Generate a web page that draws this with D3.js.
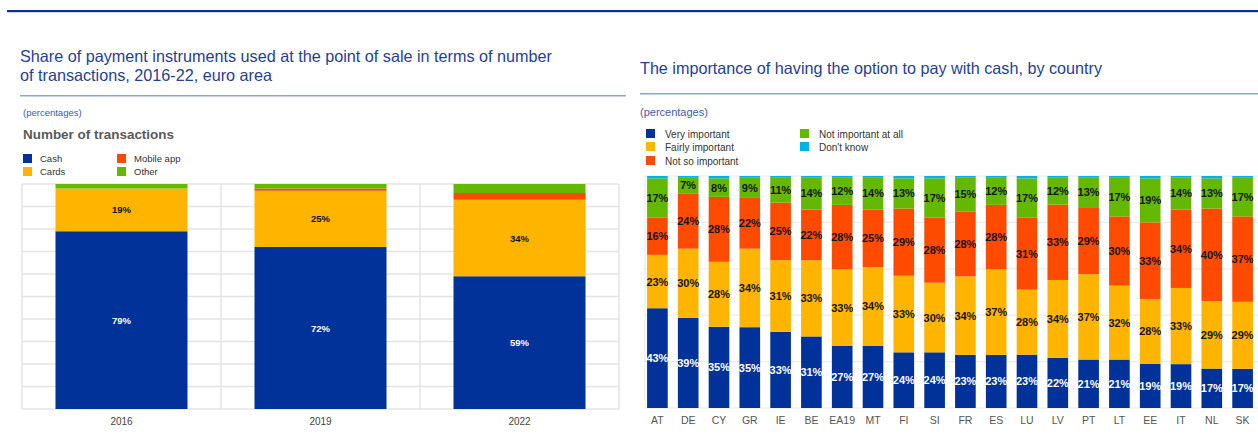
<!DOCTYPE html>
<html><head><meta charset="utf-8">
<script src="https://cdn.jsdelivr.net/npm/d3@7"></script>
<style>
html,body{margin:0;padding:0;background:#fff;}
svg{display:block;font-family:Arial,"Liberation Sans",sans-serif;}
</style></head>
<body>
<svg id="c" width="1258" height="448"></svg>
<script>
// ---- Left chart data ----
const years = ["2016", "2019", "2022"];
const cash = [79, 72, 59];
const cards = [19, 25, 34];
const mobileApp = [0, 1, 3];
const other = [2, 2, 4];
const leftKeys = ["Cash", "Cards", "Mobile app", "Other"];
const leftTicks = [0,10,20,30,40,50,60,70,80,90,100];

// ---- Right chart data ----
const countries = ["AT","DE","CY","GR","IE","BE","EA19","MT","FI","SI","FR","ES","LU","LV","PT","LT","EE","IT","NL","SK"];
const veryImportant   = [43,39,35,35,33,31,27,27,24,24,23,23,23,22,21,21,19,19,17,17];
const fairlyImportant = [23,30,28,34,31,33,33,34,33,30,34,37,28,34,37,32,28,33,29,29];
const notSoImportant  = [16,24,28,22,25,22,28,25,29,28,28,28,31,33,29,30,33,34,40,37];
const notAtAll        = [17,7,8,9,11,14,12,14,13,17,15,12,17,12,13,17,19,14,13,17];
const dontKnow        = [1,0.5,1,0.5,0.5,0.5,0.5,0.5,1,1,0.5,0.5,1,0.5,0.5,0.5,1,0.5,1,0.5];
const rightKeys = ["Very important","Fairly important","Not so important","Not important at all","Don't know"];
const rightTicks = [0,0.2,0.4,0.6,0.8,1];

const colors = {blue:"#003299", yellow:"#ffb400", red:"#ff4b00", green:"#65b800", cyan:"#00b1ea"};
const leftColor = d3.scaleOrdinal(leftKeys, [colors.blue, colors.yellow, colors.red, colors.green]);
const rightColor = d3.scaleOrdinal(rightKeys, [colors.blue, colors.yellow, colors.red, colors.green, colors.cyan]);

const svg = d3.select("#c");
const FONT = "Arial, 'Liberation Sans', sans-serif";
const titleBlue = "#1f3f99";

// top rule
svg.append("rect").attr("x",7).attr("y",10).attr("width",1251).attr("height",2.2).attr("fill","#0b2f95");

// ---------- LEFT ----------
const lt = svg.append("g");
lt.append("text").attr("x",20).attr("y",62).attr("font-size",16.5).attr("fill",titleBlue)
  .attr("textLength",532).attr("lengthAdjust","spacingAndGlyphs")
  .text("Share of payment instruments used at the point of sale in terms of number");
lt.append("text").attr("x",20).attr("y",81).attr("font-size",16.5).attr("fill",titleBlue)
  .attr("textLength",252).attr("lengthAdjust","spacingAndGlyphs")
  .text("of transactions, 2016-22, euro area");
lt.append("rect").attr("x",20).attr("y",95).attr("width",606).attr("height",1.5).attr("fill","#8ea3d6");
lt.append("text").attr("x",23).attr("y",116).attr("font-size",9.5).attr("fill","#3b5bb0").text("(percentages)");
lt.append("text").attr("x",23).attr("y",139).attr("font-size",13).attr("font-weight","bold").attr("fill","#595959")
  .attr("textLength",151).attr("lengthAdjust","spacingAndGlyphs").text("Number of transactions");

const leftLegendPos = [[23,154],[23,167],[117,154],[117,167]];
leftKeys.forEach((k,i)=>{
  const [x,y] = leftLegendPos[i];
  lt.append("rect").attr("x",x).attr("y",y).attr("width",9).attr("height",9).attr("fill",leftColor(k));
  lt.append("text").attr("x",x+17).attr("y",y+8).attr("font-size",9.5).attr("fill","#333").text(k);
});

const lx = d3.scaleBand().domain(years).range([22,619]).paddingInner(0).paddingOuter(0);
const ly = d3.scaleLinear().domain([0,100]).range([409,184]);
const grid = lt.append("g").attr("stroke","#e4e4e4").attr("stroke-width",1.5);
leftTicks.forEach(t=>grid.append("line").attr("x1",22).attr("x2",619).attr("y1",ly(t)).attr("y2",ly(t)));
[...years.map(y=>lx(y)), 619].forEach(x=>grid.append("line").attr("x1",x).attr("x2",x).attr("y1",184).attr("y2",409));

const leftRows = years.map((y,i)=>({year:y, "Cash":cash[i], "Cards":cards[i], "Mobile app":mobileApp[i], "Other":other[i]}));
const leftStack = d3.stack().keys(leftKeys)(leftRows);
const barW = 132;
lt.append("g").selectAll("g").data(leftStack).join("g").attr("fill",d=>leftColor(d.key))
  .selectAll("rect").data(d=>d).join("rect")
  .attr("x",d=>lx(d.data.year)+lx.bandwidth()/2-barW/2).attr("width",barW)
  .attr("y",d=>ly(d[1])).attr("height",d=>ly(d[0])-ly(d[1]));
leftStack.slice(0,2).forEach((s,si)=>{
  lt.append("g").selectAll("text").data(s).join("text")
    .attr("x",d=>lx(d.data.year)+lx.bandwidth()/2).attr("y",d=>ly((d[0]+d[1])/2)+3.5)
    .attr("text-anchor","middle").attr("font-size",9.5).attr("font-weight","bold")
    .attr("fill", si===0?"#fff":"#111").text(d=>d.data[s.key]+"%");
});
const lxAxis = lt.append("g").attr("transform","translate(0,409)").call(d3.axisBottom(lx).tickSize(0).tickPadding(9));
lxAxis.select(".domain").remove();
lxAxis.selectAll("text").attr("font-size",10).attr("fill","#444").attr("font-family",FONT);

// ---------- RIGHT ----------
const rt = svg.append("g");
rt.append("text").attr("x",640).attr("y",74).attr("font-size",16.5).attr("fill",titleBlue)
  .attr("textLength",462).attr("lengthAdjust","spacingAndGlyphs")
  .text("The importance of having the option to pay with cash, by country");
rt.append("rect").attr("x",640).attr("y",93).attr("width",618).attr("height",1.5).attr("fill","#8ea3d6");
rt.append("text").attr("x",640).attr("y",116).attr("font-size",11).attr("fill","#3b5bb0").text("(percentages)");
const rightLegendPos = [[646,129],[646,142],[646,156],[800,129],[800,142]];
rightKeys.forEach((k,i)=>{
  const [x,y] = rightLegendPos[i];
  rt.append("rect").attr("x",x).attr("y",y).attr("width",9).attr("height",9).attr("fill",rightColor(k));
  rt.append("text").attr("x",x+19).attr("y",y+8.5).attr("font-size",10).attr("fill","#333").text(k);
});

const rx = d3.scaleBand().domain(countries).range([642,1258]).paddingInner(0.33).paddingOuter(0.165);
const ry = d3.scaleLinear().domain([0,1]).range([408,176]);
const rgrid = rt.append("g").attr("stroke","#ececec").attr("stroke-width",1.2);
rightTicks.forEach(t=>rgrid.append("line").attr("x1",644).attr("x2",1258).attr("y1",ry(t)).attr("y2",ry(t)));
rgrid.append("line").attr("x1",645).attr("x2",645).attr("y1",176).attr("y2",408);

const rightRows = countries.map((c,i)=>({c, "Very important":veryImportant[i], "Fairly important":fairlyImportant[i],
  "Not so important":notSoImportant[i], "Not important at all":notAtAll[i], "Don't know":dontKnow[i]}));
const rightStack = d3.stack().keys(rightKeys).offset(d3.stackOffsetExpand)(rightRows);
rt.append("g").selectAll("g").data(rightStack).join("g").attr("fill",d=>rightColor(d.key))
  .selectAll("rect").data(d=>d).join("rect")
  .attr("x",d=>rx(d.data.c)).attr("width",rx.bandwidth())
  .attr("y",d=>ry(d[1])).attr("height",d=>ry(d[0])-ry(d[1]));
rightStack.slice(0,4).forEach((s,si)=>{
  rt.append("g").selectAll("text").data(s).join("text")
    .attr("x",d=>rx(d.data.c)+rx.bandwidth()/2).attr("y",d=>ry((d[0]+d[1])/2)+4)
    .attr("text-anchor","middle").attr("font-size",11).attr("font-weight","bold")
    .attr("fill", si===0?"#fff":"#151515").text(d=>d.data[s.key]+"%");
});
const rxAxis = rt.append("g").attr("transform","translate(0,408)").call(d3.axisBottom(rx).tickSize(0).tickPadding(9));
rxAxis.select(".domain").remove();
rxAxis.selectAll("text").attr("font-size",10.5).attr("fill","#555").attr("font-family",FONT);
</script>
</body></html>
